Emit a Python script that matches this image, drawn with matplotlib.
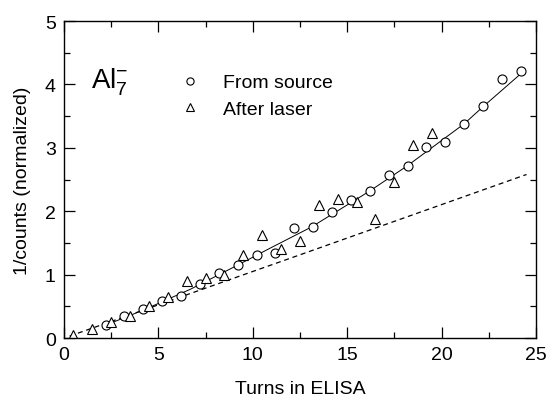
import matplotlib
matplotlib.use("Agg")
import matplotlib.pyplot as plt
from matplotlib.ticker import MultipleLocator

plt.rcParams['font.family'] = ['Liberation Sans', 'DejaVu Sans']
plt.rcParams['mathtext.fontset'] = 'custom'
plt.rcParams['mathtext.rm'] = 'Liberation Sans'
plt.rcParams['mathtext.it'] = 'Liberation Sans'

# from source (circles)
src_x = [2.2, 3.2, 4.2, 5.2, 6.2, 7.2, 8.2, 9.2, 10.2, 11.2, 12.2, 13.2,
         14.2, 15.2, 16.2, 17.2, 18.2, 19.2, 20.2, 21.2, 22.2, 23.2, 24.2]
src_y = [0.21, 0.35, 0.45, 0.58, 0.67, 0.85, 1.03, 1.15, 1.31, 1.34, 1.73, 1.75,
         1.99, 2.18, 2.32, 2.57, 2.71, 3.02, 3.09, 3.38, 3.66, 4.09, 4.21]

# after laser (triangles)
las_x = [0.5, 1.5, 2.5, 3.5, 4.5, 5.5, 6.5, 7.5, 8.5, 9.5, 10.5, 11.5,
         12.5, 13.5, 14.5, 15.5, 16.5, 17.5, 18.5, 19.5]
las_y = [0.05, 0.14, 0.25, 0.35, 0.50, 0.65, 0.90, 0.95, 1.00, 1.31, 1.62, 1.41,
         1.53, 2.10, 2.19, 2.14, 1.87, 2.46, 3.05, 3.24]

# solid fit curve
fit_x = [2.1, 4.2, 6.7, 9.2, 11.0, 13.1, 16.2, 18.2, 21.2, 22.2, 24.2]
fit_y = [0.19, 0.44, 0.77, 1.15, 1.43, 1.75, 2.32, 2.72, 3.38, 3.65, 4.17]

# dashed line
lin_x = [0.3, 12.0, 24.5]
lin_y = [0.03, 1.26, 2.58]

fig = plt.figure(figsize=(5.48, 4.02), dpi=100)
ax = fig.add_axes([0.1168, 0.1567, 0.8612, 0.7883])

ax.plot(fit_x, fit_y, '-', color='black', lw=0.7)
ax.plot(lin_x, lin_y, '--', color='black', lw=0.9, dashes=(4, 3))
ax.plot(src_x, src_y, 'o', mfc='white', mec='black', mew=0.8, ms=6.5,
        ls='none', label='From source')
ax.plot(las_x, las_y, '^', mfc='white', mec='black', mew=0.8, ms=6.5,
        ls='none', label='After laser')

ax.set_xlim(0, 25)
ax.set_ylim(0, 5)
ax.xaxis.set_major_locator(MultipleLocator(5))
ax.xaxis.set_minor_locator(MultipleLocator(2.5))
ax.yaxis.set_major_locator(MultipleLocator(1))
ax.yaxis.set_minor_locator(MultipleLocator(0.5))
ax.tick_params(which='both', direction='in', top=True, right=True,
               labelsize=14, width=0.9)
ax.tick_params(which='major', length=8, pad=6)
ax.tick_params(which='minor', length=4)
for s in ax.spines.values():
    s.set_linewidth(1.0)

ax.set_xlabel('Turns in ELISA', fontsize=14, labelpad=12)
ax.set_ylabel('1/counts (normalized)', fontsize=14, labelpad=10)

ax.text(0.058, 0.81, r'$\mathrm{Al}_7^{-}$', transform=ax.transAxes,
        fontsize=20, va='center', ha='left')

ax.legend(loc='upper left', bbox_to_anchor=(0.23, 0.858), frameon=False,
          fontsize=14, handlelength=1.0, handletextpad=1.2,
          labelspacing=0.45, borderaxespad=0, markerscale=0.8)

fig.savefig('out.png', dpi=100)
